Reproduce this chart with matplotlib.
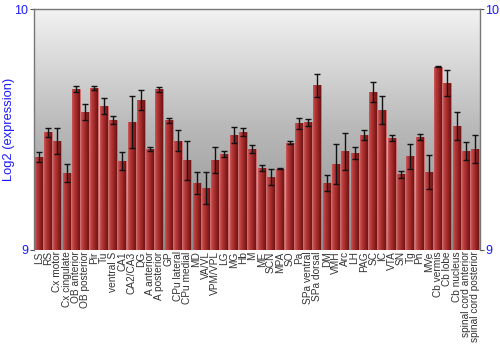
import numpy as np
import matplotlib
matplotlib.use("Agg")
import matplotlib.pyplot as plt
from matplotlib.colors import LinearSegmentedColormap

categories = ["LS", "RS", "Cx motor", "Cx cingulate", "OB anterior", "OB posterior",
              "Pir", "Tu", "ventral S", "CA1", "CA2/CA3", "DG", "A anterior",
              "A posterior", "GP", "CPu lateral", "CPu medial", "MD", "VA/VL",
              "VPM/VPL", "LG", "MG", "Hb", "M", "ME", "SCN", "MPA", "SO", "Pa",
              "SPa ventral", "SPa dorsal", "DM", "VMH", "Arc", "LH", "PAG", "SC",
              "IC", "VTA", "SN", "Tg", "Pn", "MVe", "Cb vermis", "Cb lobe",
              "Cb nucleus", "spinal cord anterior", "spinal cord posterior"]
values = [9.388, 9.489, 9.453, 9.320, 9.668, 9.572, 9.672, 9.600, 9.539, 9.370,
          9.533, 9.622, 9.420, 9.668, 9.539, 9.454, 9.373, 9.280, 9.258, 9.373,
          9.400, 9.478, 9.489, 9.420, 9.341, 9.303, 9.338, 9.445, 9.526, 9.531,
          9.684, 9.278, 9.359, 9.410, 9.404, 9.478, 9.658, 9.582, 9.465, 9.314,
          9.389, 9.469, 9.324, 9.762, 9.694, 9.515, 9.411, 9.418]
errors = [0.021, 0.018, 0.054, 0.039, 0.012, 0.033, 0.008, 0.033, 0.017, 0.036,
          0.108, 0.042, 0.008, 0.010, 0.010, 0.044, 0.081, 0.046, 0.066, 0.054,
          0.012, 0.033, 0.017, 0.017, 0.011, 0.033, 0.002, 0.006, 0.022, 0.015,
          0.047, 0.035, 0.083, 0.077, 0.025, 0.019, 0.042, 0.059, 0.012, 0.015,
          0.052, 0.014, 0.071, 0.003, 0.054, 0.059, 0.039, 0.058]
y_min, y_max = 9, 10
y_ticks = [9, 10]

plt.rcParams['font.family'] = ['Liberation Sans', 'DejaVu Sans']

fig = plt.figure(figsize=(5, 3.5), dpi=100)
ax = fig.add_axes([0.068, 0.286, 0.892, 0.687])

n = len(categories)
x = np.arange(n)
ax.set_xlim(-0.5, n - 0.5)
ax.set_ylim(y_min, y_max)

# background gradient
bg_cmap = LinearSegmentedColormap.from_list("bg", ["#8c8c8c", "#b8b8b8", "#f2f2f2"])
grad = np.linspace(0, 1, 256).reshape(-1, 1)
ax.imshow(grad, cmap=bg_cmap, aspect='auto', origin='lower',
          extent=[-0.5, n - 0.5, y_min, y_max], zorder=0)

bar_cmap = LinearSegmentedColormap.from_list(
    "bar", ["#c85a5a", "#b83a3a", "#a52c2c", "#8a1e1e", "#6e1414"])
hgrad = np.linspace(0, 1, 64).reshape(1, -1)
bars = ax.bar(x, np.array(values) - y_min, bottom=y_min, width=0.86,
              color="#a83030", edgecolor="#d07070", linewidth=0.6, zorder=2)
for b in bars:
    im = ax.imshow(hgrad, cmap=bar_cmap, aspect='auto',
                   extent=[b.get_x(), b.get_x() + b.get_width(), y_min, b.get_y() + b.get_height()],
                   zorder=2.1)
    im.set_clip_path(b)

ax.errorbar(x, values, yerr=errors, fmt='none', ecolor='#111111', elinewidth=1.0,
            capsize=2.2, capthick=1.0, zorder=3)

ax.set_xticks(x)
ax.set_xticklabels(categories, rotation=90, fontsize=7.3, color='#333333')
ax.tick_params(axis='x', length=0, pad=1)
ax.set_yticks(y_ticks)
ax.set_yticklabels([str(t) for t in y_ticks])
ax.tick_params(axis='y', colors='#555555', labelcolor='#1a1aff', labelsize=9,
               length=3, right=True, labelright=True, direction='out', pad=1)
ax.set_ylabel("Log2 (expression)", color='#1a1aff', fontsize=9.3)
ax.yaxis.set_label_coords(-0.043, 0.5)

for s in ['left', 'right', 'top']:
    ax.spines[s].set_color('#777777')
    ax.spines[s].set_linewidth(1.0)
ax.spines['bottom'].set_visible(False)
ax.set_xlim(-0.5, n - 0.5)
ax.set_ylim(y_min, y_max)

fig.savefig("out.png", dpi=100)
